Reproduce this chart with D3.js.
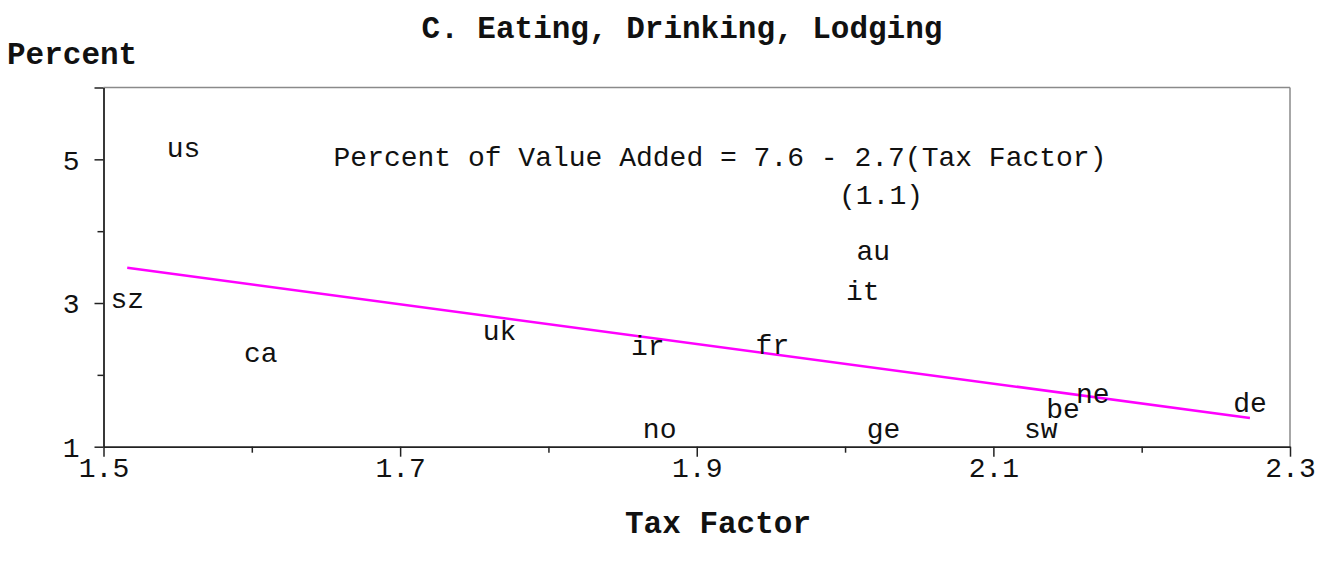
<!DOCTYPE html>
<html>
<head>
<meta charset="utf-8">
<script src="https://cdn.jsdelivr.net/npm/d3@7"></script>
<style>
  html, body { margin: 0; padding: 0; background: #fff; }
  svg { display: block; }
  text { font-family: "Courier New", "Liberation Mono", monospace; fill: #111; }
</style>
</head>
<body>
<svg id="chart" width="1331" height="563"></svg>
<script>
// ---- data ----
const countries = ["us", "sz", "ca", "uk", "ir", "fr", "no", "ge", "au", "it", "sw", "be", "ne", "de"];
const taxFactor = [1.554, 1.516, 1.606, 1.767, 1.867, 1.951, 1.875, 2.026, 2.019, 2.012, 2.132, 2.147, 2.167, 2.273];
const percentVA = [5.12, 3.01, 2.27, 2.57, 2.36, 2.38, 1.20, 1.20, 3.69, 3.13, 1.20, 1.49, 1.70, 1.57];
const fitX = [1.516, 2.273];
const fitY = [3.49, 1.40];
const xTicks = [1.5, 1.6, 1.7, 1.8, 1.9, 2.0, 2.1, 2.2, 2.3];
const xLabels = ["1.5", "1.7", "1.9", "2.1", "2.3"];
const yTicks = [1, 2, 3, 4, 5, 6];
const yLabels = ["1", "3", "5"];
const titleText = "C. Eating, Drinking, Lodging";
const yTitle = "Percent";
const xTitle = "Tax Factor";
const eqLine1 = "Percent of Value Added = 7.6 - 2.7(Tax Factor)";
const eqLine2 = "(1.1)";

// ---- layout ----
const svg = d3.select("#chart");
const L = 103.5, R = 1290, T = 87.5, B = 446.7;
const x = d3.scaleLinear().domain([1.5, 2.3]).range([L, R]);
const y = d3.scaleLinear().domain([1, 6]).range([B, T]);
const fs = 28, fsb = 31;

// frame: top & right grey
svg.append("line").attr("x1", L).attr("x2", R).attr("y1", T).attr("y2", T)
  .attr("stroke", "#8a8a8a").attr("stroke-width", 1.5);
svg.append("line").attr("x1", R).attr("x2", R).attr("y1", T).attr("y2", B)
  .attr("stroke", "#8a8a8a").attr("stroke-width", 1.5);

// x axis
const xAxis = d3.axisBottom(x).tickValues(xTicks).tickSize(0).tickFormat("");
const gx = svg.append("g").attr("transform", `translate(0,${B})`).call(xAxis);
gx.select(".domain").attr("stroke", "#222").attr("stroke-width", 1.8);
gx.selectAll(".tick line").remove();
gx.selectAll(".tick").append("line")
  .attr("y1", 0)
  .attr("y2", d => xLabels.includes(d3.format(".1f")(d)) ? 10 : 6)
  .attr("stroke", "#222").attr("stroke-width", 1.5);
gx.selectAll(".tick").append("text")
  .attr("y", 30).attr("text-anchor", "middle")
  .style("font-size", fs + "px")
  .text(d => { const s = d3.format(".1f")(d); return xLabels.includes(s) ? s : ""; });

// y axis
const yAxis = d3.axisLeft(y).tickValues(yTicks).tickSize(0).tickFormat("");
const gy = svg.append("g").attr("transform", `translate(${L},0)`).call(yAxis);
gy.select(".domain").attr("stroke", "#222").attr("stroke-width", 1.8);
gy.selectAll(".tick line").remove();
gy.selectAll(".tick").append("line")
  .attr("x1", 0)
  .attr("x2", d => yLabels.includes(String(d)) || d === 6 ? -9 : -6)
  .attr("stroke", "#222").attr("stroke-width", 1.5);
gy.selectAll(".tick").append("text")
  .attr("x", -24).attr("dy", "0.35em").attr("text-anchor", "end")
  .style("font-size", fs + "px")
  .text(d => yLabels.includes(String(d)) ? String(d) : "");

// regression line
svg.append("path")
  .datum(fitX.map((v, i) => [v, fitY[i]]))
  .attr("d", d3.line().x(d => x(d[0])).y(d => y(d[1])))
  .attr("stroke", "#ff00ff").attr("stroke-width", 2.6).attr("fill", "none");

// country labels
svg.append("g").selectAll("text").data(countries).join("text")
  .attr("x", (d, i) => x(taxFactor[i]))
  .attr("y", (d, i) => y(percentVA[i]))
  .attr("dy", "0.22em")
  .attr("text-anchor", "middle")
  .style("font-size", fs + "px")
  .text(d => d);

// equation
svg.append("text").attr("x", 720).attr("y", 166).attr("text-anchor", "middle")
  .style("font-size", fs + "px").text(eqLine1);
svg.append("text").attr("x", 881).attr("y", 204).attr("text-anchor", "middle")
  .style("font-size", fs + "px").text(eqLine2);

// titles
svg.append("text").attr("x", 682).attr("y", 38).attr("text-anchor", "middle")
  .style("font-size", fsb + "px").style("font-weight", "bold").text(titleText);
svg.append("text").attr("x", 7).attr("y", 64).attr("text-anchor", "start")
  .style("font-size", fsb + "px").style("font-weight", "bold").text(yTitle);
svg.append("text").attr("x", 718).attr("y", 533).attr("text-anchor", "middle")
  .style("font-size", fsb + "px").style("font-weight", "bold").text(xTitle);
</script>
</body>
</html>
